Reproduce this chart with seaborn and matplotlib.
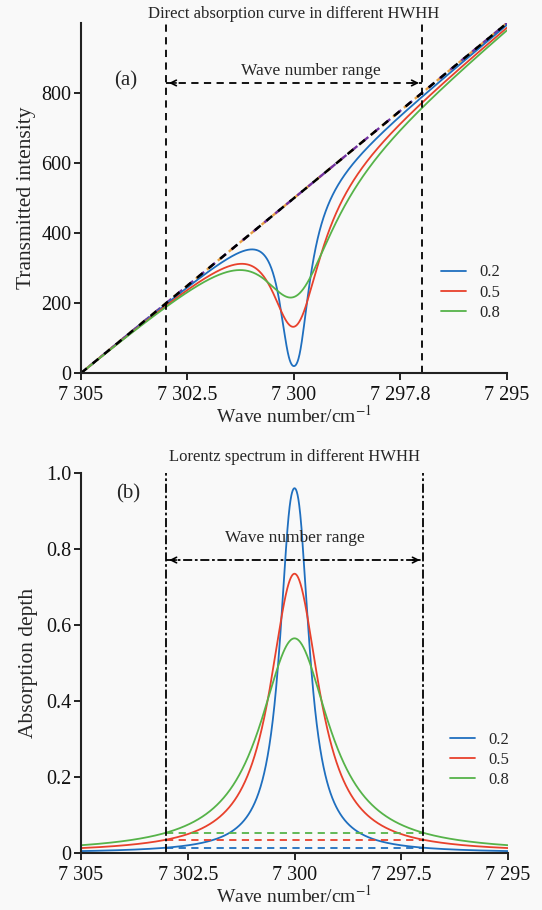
import numpy as np
import pandas as pd
import seaborn as sns
import matplotlib.pyplot as plt

# values
hwhh = [0.2, 0.5, 0.8]
hwhh_labels = ["0.2", "0.5", "0.8"]
peak_depth = [0.96, 0.735, 0.565]      # absorption depth at line centre (panel b)
line_center = 7300.0
baseline_nu = [7305.0, 7295.0]
baseline_int = [0.0, 1000.0]           # linear laser ramp (panel a)
window = [7303.0, 7297.0]              # wave number range limits
colors = ["#1f6fbf", "#e8412c", "#56b349"]

xticks = [7305, 7302.5, 7300, 7297.5, 7295]
xlabels_a = ["7 305", "7 302.5", "7 300", "7 297.8", "7 295"]
xlabels_b = ["7 305", "7 302.5", "7 300", "7 297.5", "7 295"]

sns.set_style("ticks")
plt.rcParams["font.family"] = ["Liberation Serif", "DejaVu Serif"]
plt.rcParams["mathtext.fontset"] = "stix"

nu = np.linspace(baseline_nu[1], baseline_nu[0], 2001)
i0 = np.interp(nu, baseline_nu[::-1], baseline_int[::-1])


def lorentz_depth(x, g, d):
    a0 = -np.log(1 - d)
    alpha = a0 * g**2 / ((x - line_center)**2 + g**2)
    return 1 - np.exp(-alpha)


rows = []
for g, d, lab in zip(hwhh, peak_depth, hwhh_labels):
    dep = lorentz_depth(nu, g, d)
    rows.append(pd.DataFrame({"nu": nu, "depth": dep, "trans": i0 * (1 - dep), "HWHH": lab}))
df = pd.concat(rows, ignore_index=True)

bg = "#f9f9f9"
fig = plt.figure(figsize=(5.42, 9.10), dpi=100, facecolor=bg)
ax1 = fig.add_axes([0.1494, 0.590, 0.786, 0.3846], facecolor=bg)
ax2 = fig.add_axes([0.1494, 0.0626, 0.788, 0.4176], facecolor=bg)

# ---- (a) transmitted intensity
ax1.plot(baseline_nu, baseline_int, color="#e8a040", lw=1.7, ls=(3, (3, 3)))
ax1.plot(baseline_nu, baseline_int, color="#7030a0", lw=1.7, ls=(1.5, (3, 3)))
sns.lineplot(data=df, x="nu", y="trans", hue="HWHH", palette=colors, lw=1.3,
             sort=False, ax=ax1)
ax1.plot(baseline_nu, baseline_int, color="black", lw=1.8, ls=(0, (3, 3)))
for w in window:
    ax1.plot([w, w], [0, 1000], color="black", lw=1.3, ls=(0, (4, 3)))
ax1.plot(window, [829, 829], color="black", lw=1.3, ls=(0, (4, 3)))
ax1.annotate("", xy=(window[0], 829), xytext=(window[0] - 0.3, 829),
             arrowprops=dict(arrowstyle="->", lw=1.2, color="black"))
ax1.annotate("", xy=(window[1], 829), xytext=(window[1] + 0.3, 829),
             arrowprops=dict(arrowstyle="->", lw=1.2, color="black"))
ax1.text(7299.6, 864, "Wave number range", ha="center", va="center", fontsize=12.5)
ax1.text(7303.95, 834, "(a)", ha="center", va="center", fontsize=15)
ax1.set_xlim(7305, 7295)
ax1.set_ylim(0, 1000)
ax1.set_yticks([0, 200, 400, 600, 800])
ax1.set_xticks(xticks)
ax1.set_xticklabels(xlabels_a)
ax1.set_xlabel("Wave number/cm$^{-1}$", fontsize=14, labelpad=0)
ax1.set_ylabel("Transmitted intensity", fontsize=15.5, labelpad=4)
ax1.set_title("Direct absorption curve in different HWHH", fontsize=12, pad=4)
ax1.legend(title=None, frameon=False, loc="center left", bbox_to_anchor=(0.81, 0.23),
           fontsize=12, handlelength=1.5, labelspacing=0.25)

# ---- (b) absorption depth
sns.lineplot(data=df, x="nu", y="depth", hue="HWHH", palette=colors, lw=1.3,
             sort=False, ax=ax2)
for g, d, c in zip(hwhh, peak_depth, colors):
    level = lorentz_depth(window[0], g, d)
    ax2.plot(window, [level, level], color=c, lw=1.3, ls=(0, (4, 3)))
for w in window:
    ax2.plot([w, w], [0, 1.0], color="black", lw=1.3, ls=(0, (5, 1.5, 1.5, 1.5)))
ax2.plot(window, [0.771, 0.771], color="black", lw=1.3, ls=(0, (5, 1.5, 1.5, 1.5)))
ax2.annotate("", xy=(window[0], 0.771), xytext=(window[0] - 0.3, 0.771),
             arrowprops=dict(arrowstyle="->", lw=1.2, color="black"))
ax2.annotate("", xy=(window[1], 0.771), xytext=(window[1] + 0.3, 0.771),
             arrowprops=dict(arrowstyle="->", lw=1.2, color="black"))
ax2.text(7300, 0.83, "Wave number range", ha="center", va="center", fontsize=12.5)
ax2.text(7303.9, 0.945, "(b)", ha="center", va="center", fontsize=15)
ax2.set_xlim(7305, 7295)
ax2.set_ylim(0, 1.0)
ax2.set_yticks([0, 0.2, 0.4, 0.6, 0.8, 1.0])
ax2.set_yticklabels(["0", "0.2", "0.4", "0.6", "0.8", "1.0"])
ax2.set_xticks(xticks)
ax2.set_xticklabels(xlabels_b)
ax2.set_xlabel("Wave number/cm$^{-1}$", fontsize=14, labelpad=0)
ax2.set_ylabel("Absorption depth", fontsize=15.5, labelpad=6)
ax2.set_title("Lorentz spectrum in different HWHH", fontsize=12, pad=9)
ax2.legend(title=None, frameon=False, loc="center left", bbox_to_anchor=(0.83, 0.245),
           fontsize=12, handlelength=1.5, labelspacing=0.25)

for ax in (ax1, ax2):
    sns.despine(ax=ax)
    for s in ("left", "bottom"):
        ax.spines[s].set_linewidth(1.5)
        ax.spines[s].set_color("#222222")
    ax.tick_params(labelsize=14.5, length=5, width=1.3, colors="#111111")
    ax.tick_params(axis="x", pad=4)
    ax.tick_params(axis="y", pad=2)

fig.savefig("out.png", dpi=100, facecolor=bg)
